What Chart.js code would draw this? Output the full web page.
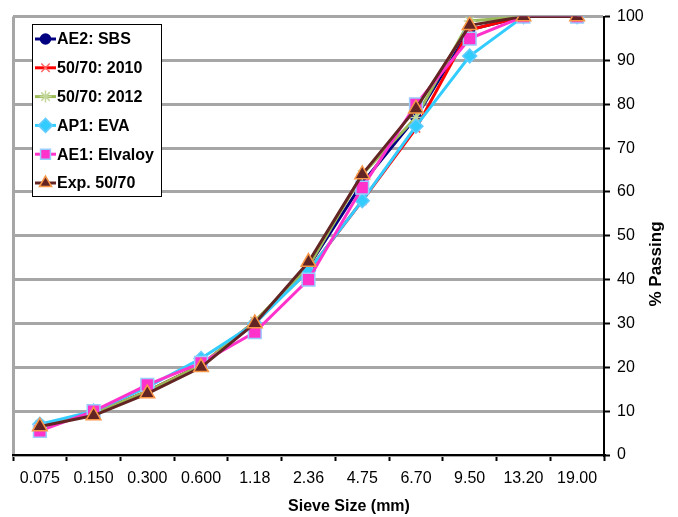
<!DOCTYPE html>
<html>
<head>
<meta charset="utf-8">
<script src="https://cdn.jsdelivr.net/npm/chart.js@4.4.1/dist/chart.umd.min.js"></script>
<style>
  html, body { margin: 0; padding: 0; background: #fff; }
  #wrap { width: 678px; height: 517px; }
</style>
</head>
<body>
<div id="wrap"><canvas id="grading"></canvas></div>
<script>
// sieve sizes (mm) and % passing per binder
var sieveSizes = ['0.075', '0.150', '0.300', '0.600', '1.18', '2.36', '4.75', '6.70', '9.50', '13.20', '19.00'];
var sbs     = [6.5, 9.5, 14.5, 20.5, 30, 43, 62, 77, 97, 100, 100];
var b2010   = [6.5, 9.5, 14.5, 20.5, 30.5, 42, 58, 74.5, 97, 100, 100];
var b2012   = [7, 9.5, 14.5, 20.5, 30.5, 43, 64, 77, 99, 100, 100];
var eva     = [7, 10, 15.5, 22, 30, 42, 58, 75, 91, 100, 100];
var elvaloy = [5.5, 10, 16, 21, 28, 40, 61, 80, 95, 100, 100];
var exp5070 = [6.5, 9, 14, 20, 30, 44, 64, 79, 98, 100, 100];
var yTicks  = [0, 10, 20, 30, 40, 50, 60, 70, 80, 90, 100];

var FONT = "'Liberation Sans', Arial, sans-serif";

function line(label, data, color, style, fill, border, radius, order) {
    return {
        label: label,
        data: data,
        borderColor: color,
        borderWidth: 3,
        pointStyle: style,
        pointRadius: radius,
        pointBackgroundColor: fill,
        pointBorderColor: border,
        pointBorderWidth: 1.5,
        tension: 0,
        order: order
    };
}

var datasets = [
    line('AE2: SBS', sbs, '#000080', 'circle', '#000080', '#000080', 5, 5),
    line('50/70: 2010', b2010, '#ff0000', 'crossRot', '#ff6666', '#ff6666', 6, 4),
    line('50/70: 2012', b2012, '#9bbb59', 'star', '#c3d69b', '#c3d69b', 6, 3),
    line('AP1: EVA', eva, '#33ccff', 'rectRot', '#33ccff', '#66ccff', 7, 2),
    line('AE1: Elvaloy', elvaloy, '#ff33cc', 'rect', '#ff33cc', '#99ccff', 9, 1),
    line('Exp. 50/70', exp5070, '#632523', 'triangle', '#632523', '#f79646', 8.5, 0)
];

// legend box drawn inside the plot, plus axis titles
var extras = {
    id: 'extras',
    afterDraw(chart) {
        var ctx = chart.ctx
        var H = Chart.helpers
        ctx.save()
        // legend box
        var bx = 32, by = 24, bw = 129, bh = 172
        ctx.fillStyle = '#fff'
        ctx.fillRect(bx, by, bw, bh)
        ctx.strokeStyle = '#000'
        ctx.lineWidth = 1
        ctx.strokeRect(bx + 0.5, by + 0.5, bw, bh)
        ctx.font = 'bold 16px ' + FONT
        ctx.textBaseline = 'middle'
        ctx.textAlign = 'left'
        chart.data.datasets.forEach((ds, i) => {
            var y = 39 + i * 28.8
            ctx.strokeStyle = ds.borderColor
            ctx.lineWidth = 3
            ctx.beginPath()
            ctx.moveTo(35, y)
            ctx.lineTo(56, y)
            ctx.stroke()
            if (H && H.drawPoint) {
                ctx.fillStyle = ds.pointBackgroundColor
                ctx.strokeStyle = ds.pointBorderColor
                ctx.lineWidth = 1.5
                H.drawPoint(ctx, {
                    pointStyle: ds.pointStyle,
                    radius: Math.min(ds.pointRadius, 7),
                    rotation: 0,
                    borderWidth: 1.5
                }, 45.5, y)
            }
            ctx.fillStyle = '#000'
            ctx.fillText(ds.label, 57, y + 1)
        })
        // axis titles
        ctx.font = 'bold 16px ' + FONT
        ctx.textAlign = 'center'
        ctx.fillText('Sieve Size (mm)', 349, 507)
        ctx.font = 'bold 17px ' + FONT
        ctx.translate(656, 264)
        ctx.rotate(-Math.PI / 2)
        ctx.fillText('% Passing', 0, 0)
        ctx.restore()
    }
};

var ctx = document.getElementById('grading').getContext('2d')
var gradingChart = new Chart(ctx, {
    type: 'line',
    data: {
        labels: sieveSizes,
        datasets: datasets
    },
    options: {
        responsive: true,
        maintainAspectRatio: false,
        animation: false,
        layout: { padding: { top: 16, left: 13, right: 0, bottom: 0 } },
        plugins: {
            legend: { display: false },
            tooltip: { enabled: false }
        },
        scales: {
            x: {
                type: 'category',
                offset: true,
                grid: {
                    offset: true,
                    color: c => c.index === 0 ? '#a6a6a6' : 'rgba(0,0,0,0)',
                    lineWidth: 3,
                    tickColor: '#000',
                    tickWidth: 2,
                    tickLength: 6
                },
                border: { color: '#000', width: 2 },
                ticks: {
                    color: '#000',
                    font: { family: FONT, size: 16 },
                    maxRotation: 0,
                    autoSkip: false,
                    padding: 8
                },
                afterFit: s => { s.height = 62 }
            },
            y: {
                position: 'right',
                min: 0,
                max: 100,
                afterBuildTicks: s => { s.ticks = yTicks.map(v => ({ value: v })) },
                grid: {
                    color: '#a6a6a6',
                    lineWidth: 3,
                    tickColor: '#000',
                    tickWidth: 2,
                    tickLength: 6
                },
                border: { color: '#000', width: 2 },
                ticks: {
                    color: '#000',
                    font: { family: FONT, size: 16 },
                    padding: 7
                },
                afterFit: s => { s.width = 74 }
            }
        }
    },
    plugins: [extras]
})
</script>
</body>
</html>
